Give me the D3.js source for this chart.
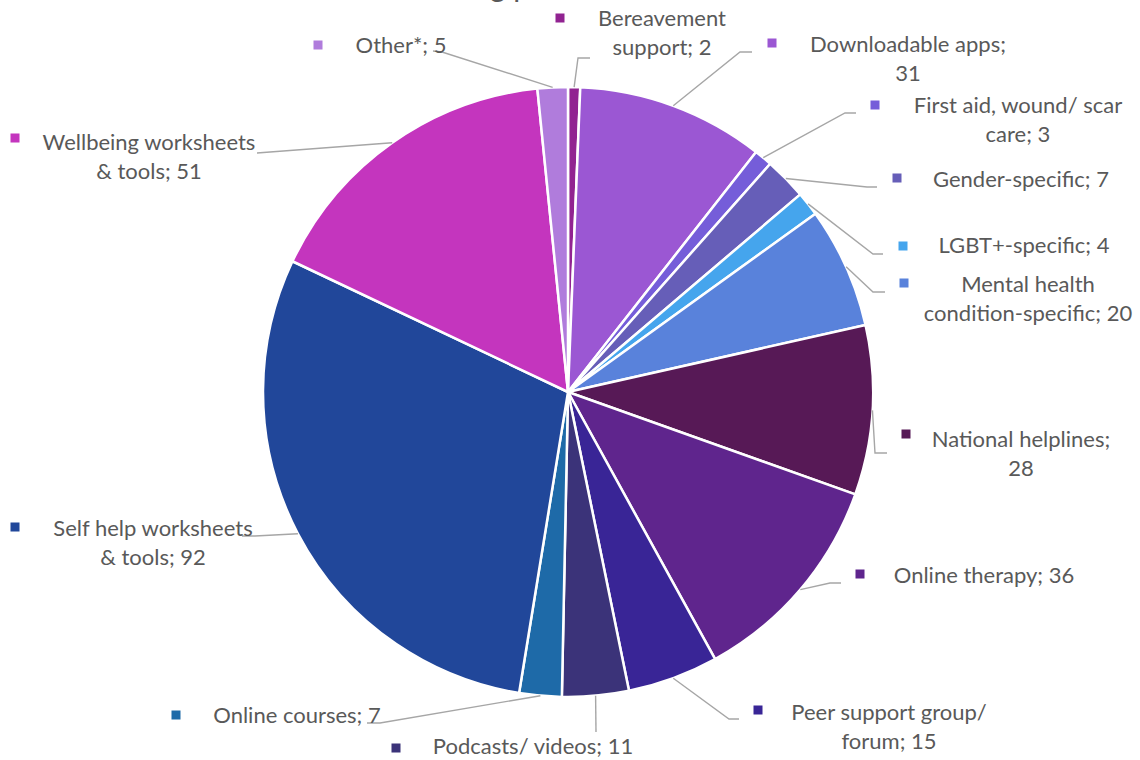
<!DOCTYPE html>
<html>
<head>
<meta charset="utf-8">
<script src="https://cdn.jsdelivr.net/npm/d3@7"></script>
<style>
  body { margin: 0; background: #fff; }
  svg text { font-family: Lato, "Open Sans", sans-serif; fill: #595959; }
</style>
</head>
<body>
<svg id="chart" width="1140" height="760"></svg>
<script>
// Signposting categories and the number of resources in each
const categories = [
  "Bereavement support", "Downloadable apps", "First aid, wound/ scar care",
  "Gender-specific", "LGBT+-specific", "Mental health condition-specific",
  "National helplines", "Online therapy", "Peer support group/ forum",
  "Podcasts/ videos", "Online courses", "Self help worksheets & tools",
  "Wellbeing worksheets & tools", "Other*"
];
const values = [2, 31, 3, 7, 4, 20, 28, 36, 15, 11, 7, 92, 51, 5];
const sliceColors = [
  "#912391", "#9b57d3", "#755dd9", "#665eb8", "#45a5ed", "#5982db",
  "#571956", "#5f258d", "#392596", "#3b3379", "#1e6aa8", "#21479a",
  "#c435be", "#b07cdc"
];
// words kept on the first line of each wrapped label
const firstLineWords = [1, 2, 4, 9, 9, 2, 2, 9, 3, 9, 9, 3, 2, 9];

// label placement: legend-key square, text centre / first baseline, leader elbow and end
const labelLayout = [
  { mx: 560, my: 18,  tx: 662,  ty: 26,  leader: [[578, 58], [590, 58]] },
  { mx: 772, my: 43,  tx: 908,  ty: 52,  leader: [[740, 52], [752, 52]] },
  { mx: 875, my: 105, tx: 1018, ty: 113, leader: [[845, 113], [856, 113]] },
  { mx: 897, my: 178, tx: 1021, ty: 187, leader: [[867, 187], [877, 187]] },
  { mx: 903, my: 246, tx: 1024, ty: 253, leader: [[873, 254], [883, 254]] },
  { mx: 904, my: 283, tx: 1028, ty: 292, leader: [[873, 292], [885, 292]] },
  { mx: 906, my: 434, tx: 1021, ty: 447, leader: [[875, 453], [887, 453]] },
  { mx: 860, my: 574, tx: 984,  ty: 583, leader: [[830, 583], [841, 583]] },
  { mx: 758, my: 710, tx: 889,  ty: 720, leader: [[729, 719], [739, 719]] },
  { mx: 396, my: 748, tx: 533,  ty: 754, leader: [[596, 732]] },
  { mx: 176, my: 715, tx: 297,  ty: 723, leader: [[380, 723], [367, 723]] },
  { mx: 15,  my: 527, tx: 153,  ty: 536, leader: [[255, 536], [242, 536]] },
  { mx: 15,  my: 138, tx: 149,  ty: 150, leader: [[270, 152], [257, 153]] },
  { mx: 318, my: 45,  tx: 401,  ty: 53,  leader: [[442, 52], [433, 51]] }
];

const svg = d3.select("#chart");
const cx = 568, cy = 392, radius = 305;
const fontSize = 22, lineHeight = 29;

// title sits mostly above the top edge
const title = svg.append("text")
  .attr("font-size", 30)
  .attr("y", -3)
  .text("Wellbeing provision");
const gOffset = title.node().getSubStringLength(0, 8);
title.attr("x", 490 - gOffset);

const pie = d3.pie().sort(null).value(d => d).startAngle(0).endAngle(2 * Math.PI);
const arcs = pie(values);
const arc = d3.arc().innerRadius(0).outerRadius(radius);

const g = svg.append("g").attr("transform", `translate(${cx},${cy})`);
g.selectAll("path.slice")
  .data(arcs)
  .join("path")
  .attr("class", "slice")
  .attr("d", arc)
  .attr("fill", (d, i) => sliceColors[i])
  .attr("stroke", "#fff")
  .attr("stroke-width", 2.5)
  .attr("stroke-linejoin", "round");

// leader lines start on the rim at each slice's mid-angle
const line = d3.line();
arcs.forEach((a, i) => {
  const mid = (a.startAngle + a.endAngle) / 2;
  const start = [cx + radius * Math.sin(mid), cy - radius * Math.cos(mid)];
  svg.append("path")
    .attr("d", line([start, ...labelLayout[i].leader]))
    .attr("fill", "none")
    .attr("stroke", "#a6a6a6")
    .attr("stroke-width", 1.4);
});

// data labels: legend key square plus "category; value"
arcs.forEach((a, i) => {
  const L = labelLayout[i];
  svg.append("rect")
    .attr("x", L.mx - 4.5).attr("y", L.my - 4.5)
    .attr("width", 9).attr("height", 9)
    .attr("fill", sliceColors[i]);
  const words = `${categories[i]}; ${a.data}`.split(" ");
  const n = firstLineWords[i];
  const lines = [words.slice(0, n).join(" ")];
  if (words.length > n) lines.push(words.slice(n).join(" "));
  const t = svg.append("text")
    .attr("font-size", fontSize)
    .attr("text-anchor", "middle");
  lines.forEach((s, k) => {
    t.append("tspan").attr("x", L.tx).attr("y", L.ty + k * lineHeight).text(s);
  });
});
</script>
</body>
</html>
